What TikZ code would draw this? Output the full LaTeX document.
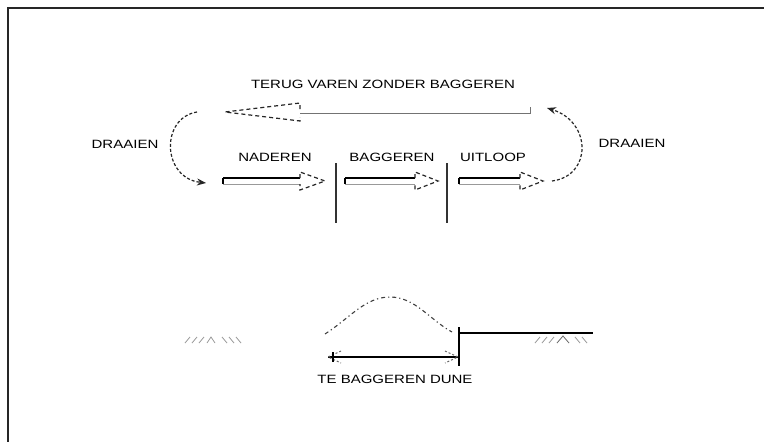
\documentclass[tikz,border=0pt]{standalone}
\usepackage{fontspec}
\setmainfont{Liberation Sans}
\usetikzlibrary{arrows.meta}
\newcommand\blockarrow[4]{% x1, x2, tip x, centre y
  \draw[shafttop] (#1,#4-3) -- (#2,#4-3) (#1,#4-3) -- (#1,#4+3);
  \draw[shaftbot] (#1,#4+3) -- (#2,#4+3);
  \draw[headdash] (#2,#4-3) -- (#2,#4-9) -- (#3,#4) -- (#2,#4+9) -- (#2,#4+3);
}
\begin{document}
\begin{tikzpicture}[x=1pt,y=-1pt,
  lbl/.style={font=\fontsize{12}{14}\selectfont, xscale=1.25, inner sep=0pt, text=black},
  frame/.style={line width=1.6pt, black!85},
  shafttop/.style={line width=1.3pt, black},
  shaftbot/.style={line width=1pt, black!40},
  headdash/.style={line width=1.2pt, black!85, dash pattern=on 4pt off 3pt},
  turn/.style={line width=1.2pt, black!85, dash pattern=on 3pt off 2pt, -{Stealth[length=9pt,width=7pt]}},
  divider/.style={line width=1.2pt, black!80},
  dune/.style={line width=1.1pt, black!75, dash pattern=on 4pt off 3pt on 1.2pt off 3pt},
  ground/.style={line width=1.8pt, black},
  hatch/.style={line width=0.8pt, black!40},
  chev/.style={line width=1pt, black!60, dash pattern=on 2pt off 2pt},
  dim/.style={line width=1.6pt, black}]
\useasboundingbox (0,0) rectangle (764,442);
\fill[white] (0,0) rectangle (764,442);
% frame
\draw[frame] (8,442) -- (8,8) -- (764,8);

% labels
\node[lbl] (terug) at (383,84) {TERUG VAREN ZONDER BAGGEREN};
\node[lbl] (draaiL) at (125,144) {DRAAIEN};
\node[lbl] (draaiR) at (632,143) {DRAAIEN};
\node[lbl] (nad) at (275,157) {NADEREN};
\node[lbl] (bag) at (392,157) {BAGGEREN};
\node[lbl] (uit) at (493,157) {UITLOOP};
\node[lbl] (dune) at (395,379) {TE BAGGEREN DUNE};

% return arrow (pointing left)
\draw[shaftbot, black!55] (300,113) -- (530,113) -- (530,107);
\draw[headdash] (300,109) -- (300,103) -- (225,112) -- (300,121) -- (300,117);

% forward block arrows
\blockarrow{223}{300}{325}{181}
\blockarrow{345}{415}{438}{181}
\blockarrow{459}{520}{543}{181}

% dividers
\draw[divider] (336,163) -- (336,223);
\draw[divider] (447,163) -- (447,223);

% turning arrows
\coordinate (lt) at (197,112);
\coordinate (lb) at (206,183);
\coordinate (rb) at (552,181);
\coordinate (rt) at (547,108);
\draw[turn] (lt) .. controls (160,118) and (162,178) .. (lb);
\draw[turn] (rb) .. controls (592,176) and (592,122) .. (rt);

% dune profile
\draw[dune] (325,334) .. controls (350,318) and (365,297) .. (390,297)
            .. controls (415,297) and (430,320) .. (452,332);
\draw[ground] (459,327) -- (459,366);
\draw[ground] (459,333) -- (593,333);

% dimension
\coordinate (dl) at (328,357);
\coordinate (dr) at (458,357);
\draw[dim] (dl) -- (dr);
\draw[chev] (341,351) -- (dl) -- (341,363);
\draw[chev] (445,351) -- (dr) -- (445,363);
\draw[line width=1.2pt] (333,352) -- (333,362);

% ground hatches left
\foreach \x in {185,192,199} \draw[hatch] (\x,343) -- (\x+5,337);
\draw[hatch] (207,343) -- (211,337) -- (215,343);
\foreach \x in {222,229,236} \draw[hatch] (\x,337) -- (\x+5,343);
% ground hatches right
\foreach \x in {535,542,549} \draw[hatch] (\x,343) -- (\x+5,337);
\draw[hatch, black!60] (557,343) -- (563,336) -- (569,343);
\foreach \x in {575,582} \draw[hatch] (\x,337) -- (\x+5,343);
\end{tikzpicture}
\end{document}
